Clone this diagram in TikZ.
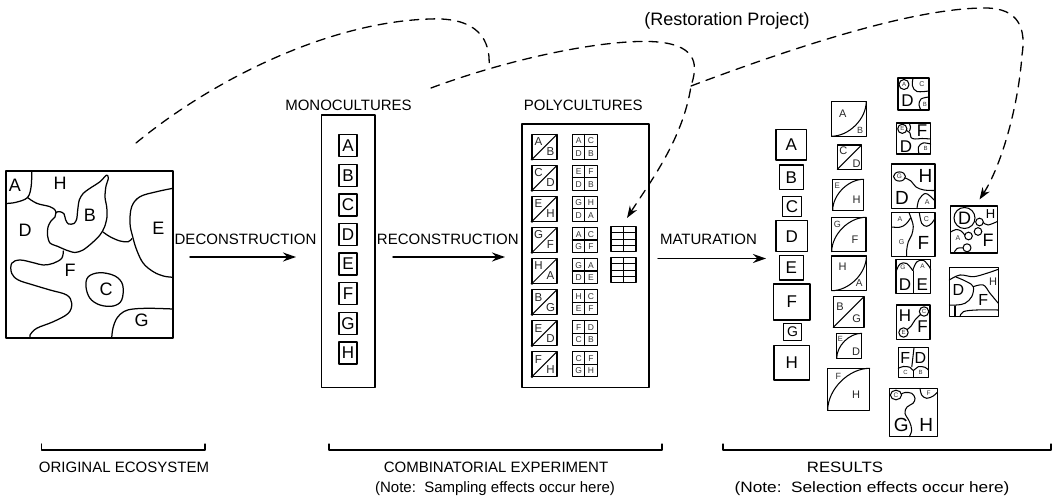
\documentclass[tikz,border=0pt]{standalone}
\usepackage{fontspec}
\setmainfont{Liberation Sans}
\usetikzlibrary{arrows.meta,calc}
\newcommand{\fsz}[1]{\fontsize{#1}{#1}\selectfont}
% box with a straight or curved split, for the pair columns
\newcommand{\splitsq}[5]{% name, x, y, size, split style
  \node[sq,minimum size=#4pt,anchor=north west] (#1) at (#2,#3) {};
  \draw[seg] (#1.south west) to[#5] (#1.north east);
}
\newcommand{\quadsq}[7]{% name, x, y, four letters
  \node[sq,minimum size=25pt,anchor=north west] (#1) at (#2,#3) {};
  \draw[seg] (#1.north) -- (#1.south) (#1.west) -- (#1.east);
  \node[tinyl] (#1-a) at ($(#1.north west)+(6.4,6.6)$) {#4};
  \node[tinyl] (#1-b) at ($(#1.north west)+(18.6,6.6)$) {#5};
  \node[tinyl] (#1-c) at ($(#1.north west)+(6.4,18.8)$) {#6};
  \node[tinyl] (#1-d) at ($(#1.north west)+(18.6,18.8)$) {#7};
}
\newcommand{\diagsq}[5]{% name, x, y, two letters
  \node[sq,minimum size=25pt,anchor=north west] (#1) at (#2,#3) {};
  \draw[seg] (#1.south west) -- (#1.north east);
  \fill (#1.south west) circle (1.4);
  \node[pairl] (#1-a) at ($(#1.north west)+(6.5,7.5)$) {#4};
  \node[pairl] (#1-b) at ($(#1.south east)+(-6.5,-7.5)$) {#5};
}
\begin{document}
\begin{tikzpicture}[x=1pt,y=-1pt,line join=round,line cap=round,
  every node/.style={inner sep=0pt,outer sep=0pt},
  lbl/.style={font=\fsz{15}},
  big/.style={font=\fsz{18}},
  mid/.style={font=\fsz{11},text=black!85},
  small/.style={font=\fsz{7},text=black!80},
  tinyl/.style={font=\fsz{8.5},text=black!80},
  pairl/.style={font=\fsz{11.5},text=black!85},
  frame/.style={draw,line width=1.4pt},
  sq/.style={draw,line width=1.25pt},
  seg/.style={line width=1.05pt},
  map/.style={line width=1.25pt},
  flow/.style={line width=1.4pt,-{Stealth[length=13pt,width=9pt]}},
  restore/.style={line width=1.3pt,dash pattern=on 9pt off 7pt},
  restoretip/.style={restore,-{Stealth[length=12pt,width=8.5pt]}},
  bulgebr/.style={to path={.. controls ($(\tikztostart)!0.5!(\tikztostart -| \tikztotarget)$) and ($(\tikztotarget)!0.5!(\tikztostart -| \tikztotarget)$) .. (\tikztotarget)}},
  bulgetl/.style={to path={.. controls ($(\tikztostart)!0.5!(\tikztostart |- \tikztotarget)$) and ($(\tikztotarget)!0.5!(\tikztostart |- \tikztotarget)$) .. (\tikztotarget)}},
  straight/.style={to path={-- (\tikztotarget)}},
]
\useasboundingbox (0,0) rectangle (1054,502);
\fill[white] (0,0) rectangle (1054,502);

% ---------- original ecosystem ----------
\node[frame,minimum width=167pt,minimum height=167pt,anchor=north west] (eco) at (6,171) {};
\begin{scope}[map]
\draw plot[smooth,tension=0.6] coordinates {(31.7,171) (31.2,186) (27.5,197.5) (16,202.3) (6,203.5)};
\draw plot[smooth,tension=0.6] coordinates {(27.5,197.5) (36.7,203.3) (50,206.7) (55,210) (56,213)};
\draw plot[smooth cycle,tension=0.5] coordinates {(56,212.5) (60,211.7) (64,213.8) (65.7,220) (68.5,224) (74,223.5) (76.7,219) (77.7,210) (79.3,200) (83.3,193.3) (90,188.3) (100,181.7) (106.7,175) (108.3,178.5) (106,186) (105,197) (106.7,207) (107,217) (104.5,227) (100,235) (92,243) (83,250) (75,252.5) (66,250) (58,246.5) (50,243) (47.5,235) (48,227) (51,221) (55,217)};
\draw plot[smooth,tension=0.6] coordinates {(103,232) (110,236.7) (120,241) (128.3,241.7) (132,238.5)};
\draw plot[smooth,tension=0.6] coordinates {(173,188.3) (156.7,191.7) (140,196.7) (131.7,206.7) (130,223.3) (132.7,236.7) (136.7,250) (143.3,263.3) (153.3,271.7) (163.3,276) (173,277.3)};
\draw plot[smooth,tension=0.6] coordinates {(63.3,251) (61.7,258.3) (53.3,263.3) (43.3,265) (33.3,262.7) (20,260) (11.7,263.3) (11.7,273.3) (18.3,280) (33.3,285) (50,290) (66.7,295) (71.7,303.3) (68.3,313.3) (53.3,321.7) (36.7,328.3) (30,335) (30.7,338)};
\draw plot[smooth cycle,tension=0.6] coordinates {(88.3,276.7) (100,272.7) (115,276) (122.7,285) (121.7,300) (113.3,306) (100,305) (90,298.3) (86,286.7)};
\draw plot[smooth,tension=0.6] coordinates {(111.7,338) (113,328) (117,318) (124,311.5) (133.3,309) (150,308.3) (173,309)};
\end{scope}
\node[big] (ecoA) at (15,185) {A};
\node[big] (ecoH) at (60,183.3) {H};
\node[big] (ecoB) at (90,215) {B};
\node[big] (ecoD) at (25,230) {D};
\node[big] (ecoE) at (158.3,228.3) {E};
\node[big] (ecoF) at (70,270) {F};
\node[big] (ecoC) at (106,289.3) {C};
\node[big] (ecoG) at (141.7,320) {G};

% ---------- process arrows ----------
\coordinate (dA) at (190,257); \coordinate (dB) at (296,257);
\draw[flow] (dA) -- (dB);
\node[lbl] (decon) at (245.5,239) {DECONSTRUCTION};
\coordinate (rA) at (393,257); \coordinate (rB) at (505,257);
\draw[flow] (rA) -- (rB);
\node[lbl] (recon) at (447.8,239) {RECONSTRUCTION};
\coordinate (mA) at (658,258.5); \coordinate (mB) at (766,258.5);
\draw[flow] (mA) -- (mB);
\node[lbl] (matur) at (708.5,239) {MATURATION};

% ---------- monocultures ----------
\node[lbl] (monot) at (348.5,105) {MONOCULTURES};
\node[frame,minimum width=53.3pt,minimum height=272.7pt,anchor=north west] (mono) at (321.7,115) {};
\foreach \L [count=\i from 0] in {A,B,C,D,E,F,G,H}
  \node[sq,minimum width=18pt,minimum height=22pt,font=\fsz{17}] (mono\L) at (348,{145.7+29.6*\i}) {\L};

% ---------- polycultures ----------
\node[lbl] (polyt) at (583.3,105) {POLYCULTURES};
\node[frame,minimum width=127pt,minimum height=263.7pt,anchor=north west] (poly) at (522,124) {};
\diagsq{pd1}{532}{134.3}{A}{B}
\diagsq{pd2}{532}{165.4}{C}{D}
\diagsq{pd3}{532}{196.4}{E}{H}
\diagsq{pd4}{532}{227.5}{G}{F}
\diagsq{pd5}{532}{258.5}{H}{A}
\diagsq{pd6}{532}{289.6}{B}{G}
\diagsq{pd7}{532}{320.7}{E}{D}
\diagsq{pd8}{532}{351.7}{F}{H}
\quadsq{pq1}{572.3}{134.3}{A}{C}{D}{B}
\quadsq{pq2}{572.3}{165.4}{E}{F}{D}{B}
\quadsq{pq3}{572.3}{196.4}{G}{H}{D}{A}
\quadsq{pq4}{572.3}{227.5}{A}{C}{G}{F}
\quadsq{pq5}{572.3}{258.5}{G}{A}{D}{E}
\quadsq{pq6}{572.3}{289.6}{H}{C}{E}{F}
\quadsq{pq7}{572.3}{320.7}{F}{D}{C}{B}
\quadsq{pq8}{572.3}{351.7}{C}{F}{G}{H}
\foreach \gy/\gn in {226.7/grid1,257.7/grid2}{
  \node[sq,minimum size=25pt,anchor=north west] (\gn) at (611,\gy) {};
  \draw[seg] (\gn.north) -- (\gn.south);
  \foreach \f in {0.25,0.5,0.75}
    \draw[seg] ($(\gn.north west)!\f!(\gn.south west)$) -- ($(\gn.north east)!\f!(\gn.south east)$);
}

% ---------- results: single species ----------
\node[sq,minimum width=30.7pt,minimum height=30.7pt,font=\fsz{17}] (ra) at (791.3,144.7) {A};
\node[sq,minimum width=24pt,minimum height=24.3pt,font=\fsz{17}] (rb) at (791.3,177.2) {B};
\node[sq,minimum width=19.4pt,minimum height=20pt,font=\fsz{17}] (rc) at (792,206.7) {C};
\node[sq,minimum width=31.3pt,minimum height=31pt,font=\fsz{17}] (rd) at (791.7,236.2) {D};
\node[sq,minimum width=24pt,minimum height=24.3pt,font=\fsz{17}] (re) at (791.3,267.8) {E};
\node[sq,minimum width=36.7pt,minimum height=36pt,font=\fsz{17}] (rf) at (791.7,302) {F};
\node[sq,minimum width=18.4pt,minimum height=17.4pt,font=\fsz{14}] (rg) at (792.5,332) {G};
\node[sq,minimum width=35.3pt,minimum height=34.3pt,font=\fsz{17}] (rh) at (791.7,362.8) {H};

% ---------- results: pairs ----------
\splitsq{rp1}{831.7}{101.7}{34.5}{bulgebr}
\node[mid] (rp1a) at (842.7,113.3) {A}; \node[small,font=\fsz{9}] (rp1b) at (860,130.3) {B};
\splitsq{rp2}{837.3}{145}{24.3}{straight}
\node[mid] (rp2a) at (843.3,151) {C}; \node[mid] (rp2b) at (856.5,163.5) {D};
\splitsq{rp3}{832.7}{179.3}{31}{bulgetl}
\node[small,font=\fsz{8}] (rp3a) at (837.3,186) {E}; \node[mid] (rp3b) at (856.7,200) {H};
\splitsq{rp4}{831.7}{217.3}{34.4}{bulgetl}
\node[small,font=\fsz{9}] (rp4a) at (837.3,224) {G}; \node[mid] (rp4b) at (855,240) {F};
\splitsq{rp5}{831.7}{256}{34.7}{bulgebr}
\node[mid] (rp5a) at (842.7,266.7) {H}; \node[small,font=\fsz{10}] (rp5b) at (859.3,283) {A};
\splitsq{rp6}{833.3}{296.7}{30.7}{straight}
\node[mid] (rp6a) at (840,306.7) {B}; \node[mid] (rp6b) at (856.7,318.3) {G};
\splitsq{rp7}{836.7}{333.3}{25}{bulgetl}
\node[small,font=\fsz{7.5}] (rp7a) at (840.3,338.5) {E}; \node[mid] (rp7b) at (856,352) {D};
\splitsq{rp8}{827.7}{368.3}{42}{bulgetl}
\node[small,font=\fsz{9}] (rp8a) at (838.3,376.7) {F}; \node[mid] (rp8b) at (856,395) {H};

% ---------- results: mixtures ----------
% A C / D B
\node[sq,minimum width=31pt,minimum height=32pt,anchor=north west] (rm1) at (898,78) {};
\draw[seg] (904,84.5) circle (5);
\draw[seg] plot[smooth,tension=0.6] coordinates {(913,78) (912.5,86) (917,91.5) (929,91)};
\draw[seg] plot[smooth,tension=0.6] coordinates {(929,97) (921,99) (919,105) (921,110)};
\node[small,font=\fsz{6}] (rm1a) at (904,84.5) {A};
\node[small] (rm1c) at (922,84.5) {C};
\node[big,font=\fsz{17}] (rm1d) at (907.5,101) {D};
\node[small,font=\fsz{6}] (rm1b) at (924.8,104) {B};
% E F / D B
\node[sq,minimum width=34pt,minimum height=31pt,anchor=north west] (rm2) at (896.7,123) {};
\draw[seg] (902.3,128.8) circle (4.6);
\draw[seg] plot[smooth,tension=0.6] coordinates {(906.5,130.5) (910,133) (911,137.5) (915,139) (922,138.5) (930.7,139)};
\draw[seg] plot[smooth,tension=0.6] coordinates {(909,123) (910.5,127) (909.5,131)};
\draw[seg] plot[smooth,tension=0.6] coordinates {(919,154) (918.5,147) (923,143) (930.7,144)};
\node[small,font=\fsz{6}] (rm2e) at (902.3,128.8) {E};
\node[big,font=\fsz{17}] (rm2f) at (922,131) {F};
\node[big,font=\fsz{17}] (rm2d) at (906,146.5) {D};
\node[small,font=\fsz{6}] (rm2b) at (925.5,148.5) {B};
% G H / D A
\node[sq,minimum width=43.3pt,minimum height=44.3pt,anchor=north west] (rm3) at (891.7,164) {};
\draw[seg] (899.5,176.5) ellipse [x radius=6, y radius=4.6];
\draw[seg] plot[smooth,tension=0.6] coordinates {(905.2,178) (911,181) (916,187) (924,190) (935,190.5)};
\draw[seg] plot[smooth,tension=0.6] coordinates {(917,208.3) (919,199.5) (925,193.5) (930,196) (935,201)};
\node[small,font=\fsz{6.5}] (rm3g) at (899.5,176.5) {G};
\node[big,font=\fsz{19}] (rm3h) at (925.5,175.5) {H};
\node[big,font=\fsz{19}] (rm3d) at (902,198) {D};
\node[small,font=\fsz{7}] (rm3a) at (927.3,202.5) {A};
% A C / G F
\node[sq,minimum width=43.3pt,minimum height=43.5pt,anchor=north west] (rm4) at (891.7,212.7) {};
\draw[seg] plot[smooth,tension=0.6] coordinates {(909,212.7) (911.7,220) (913.3,226.7) (911.7,235) (908.3,241.7) (906.7,250) (906.7,256.2)};
\draw[seg] plot[smooth,tension=0.6] coordinates {(891.7,227) (900,227.2) (906,224) (910.5,218)};
\draw[seg] plot[smooth,tension=0.6] coordinates {(919.3,212.7) (921.7,223.3) (926.7,226.3) (931.7,223.3) (935,218.3)};
\node[small] (rm4a) at (900,219.5) {A};
\node[small] (rm4c) at (926.5,219.5) {C};
\node[small] (rm4g) at (901.7,241.7) {G};
\node[big,font=\fsz{19}] (rm4f) at (923.3,243.3) {F};
% G A / D E
\node[sq,minimum width=34.7pt,minimum height=34pt,anchor=north west] (rm5) at (896,259.3) {};
\draw[seg] plot[smooth,tension=0.6] coordinates {(896,271.7) (900,264) (906.7,263.5) (912.7,270.5)};
\draw[seg] plot[smooth,tension=0.6] coordinates {(912.7,270.5) (916.7,262) (923.3,260.3) (929.3,266.7) (930.7,270)};
\draw[seg] (913.3,271) -- (913.3,293.3);
\node[small,font=\fsz{6.5}] (rm5g) at (903,267.5) {G};
\node[small,font=\fsz{6.5}] (rm5a) at (922.5,266.5) {A};
\node[big,font=\fsz{17}] (rm5d) at (905,284.5) {D};
\node[big,font=\fsz{17}] (rm5e) at (922.3,284.5) {E};
% H C / E F
\node[sq,minimum width=33.3pt,minimum height=34.3pt,anchor=north west] (rm6) at (896.7,305) {};
\draw[seg] (924,311.5) circle (4.7);
\draw[seg] (903.5,332.5) circle (4.7);
\draw[seg] plot[smooth,tension=0.6] coordinates {(920.5,314.5) (915,320) (911.5,325.5) (907.3,329.5)};
\node[small,font=\fsz{6}] (rm6c) at (924,311.5) {C};
\node[small,font=\fsz{6}] (rm6e) at (903.5,332.5) {E};
\node[big,font=\fsz{17}] (rm6h) at (905,316) {H};
\node[big,font=\fsz{17}] (rm6f) at (922.5,327) {F};
% F D / C B
\node[sq,minimum width=30pt,minimum height=30pt,anchor=north west] (rm7) at (898.3,347.7) {};
\draw[seg] (914,347.7) -- (911.8,366.8);
\draw[seg] plot[smooth,tension=0.6] coordinates {(898.3,368.3) (903.3,366.5) (910,367.3) (913.3,370.5) (918.3,366.7) (925,367.3) (928.3,370)};
\draw[seg] (913.3,370.5) -- (913.3,377.7);
\node[big,font=\fsz{16}] (rm7f) at (905.3,357.5) {F};
\node[big,font=\fsz{16}] (rm7d) at (920.5,357.5) {D};
\node[small,font=\fsz{6}] (rm7c) at (905.5,372.5) {C};
\node[small,font=\fsz{6}] (rm7b) at (920.5,372.5) {B};
% C F / G H
\node[sq,minimum width=48pt,minimum height=48.4pt,anchor=north west] (rm8) at (889.3,388.3) {};
\draw[seg] (896,395) ellipse [x radius=5.6, y radius=4.8];
\draw[seg] plot[smooth,tension=0.6] coordinates {(901.5,394) (905,392.5) (911.7,393.3) (915,398.3) (913,403.3) (907,407) (905,413.3) (909.5,421.7) (911.7,430) (909.3,436.7)};
\draw[seg] plot[smooth,tension=0.6] coordinates {(920,388.3) (921.7,395) (926.7,398.3) (933.3,396) (937.3,392.3)};
\node[small,font=\fsz{6.5}] (rm8c) at (896,395) {C};
\node[small,font=\fsz{6.5}] (rm8f) at (928.5,393.5) {F};
\node[big,font=\fsz{19}] (rm8g) at (901.3,425) {G};
\node[big,font=\fsz{19}] (rm8h) at (926.3,425) {H};

% ---------- restored communities ----------
\node[sq,minimum width=46.6pt,minimum height=47pt,anchor=north west] (rr1) at (950.7,206) {};
\draw[seg] (964.5,218) circle (10.5);
\draw[seg] (979.5,222) circle (3.8);
\draw[seg] (978,231.5) circle (3.8);
\draw[seg] (968.5,236) circle (3.8);
\draw[seg] (967,247.8) circle (4);
\draw[seg] plot[smooth,tension=0.6] coordinates {(983.3,222.5) (988,225) (997.3,221.5)};
\draw[seg] plot[smooth,tension=0.6] coordinates {(950.7,232) (956,229.5) (961,231) (964.7,235)};
\draw[seg] plot[smooth,tension=0.6] coordinates {(963,247.8) (957,248.5) (954,253)};
\node[big,font=\fsz{18}] (rr1d) at (964.5,218) {D};
\node[big,font=\fsz{13}] (rr1h) at (990.5,214.5) {H};
\node[small,font=\fsz{7}] (rr1a) at (958,238.5) {A};
\node[big,font=\fsz{18}] (rr1f) at (988,240.5) {F};
\node[sq,minimum width=49pt,minimum height=49.4pt,anchor=north west] (rr2) at (949.3,267.3) {};
\draw[seg] plot[smooth,tension=0.6] coordinates {(949.3,280) (960,275) (973.3,276.7) (986.7,273.3) (998.3,269.3)};
\draw[seg] plot[smooth,tension=0.6] coordinates {(956,277) (966.7,281.7) (973.3,286.7) (971.7,296.7) (965,303.3) (956.7,305) (949.3,305)};
\draw[seg] plot[smooth,tension=0.6] coordinates {(973.3,286.7) (983.3,285) (990,293.3) (998.3,303.3)};
\draw[seg] plot[smooth,tension=0.6] coordinates {(960,316.7) (963.3,311.7) (976.7,310) (998.3,310)};
\draw[seg] (955,306) -- (955,316.7);
\node[big,font=\fsz{16}] (rr2d) at (958.3,290) {D};
\node[big,font=\fsz{16}] (rr2f) at (983.3,300) {F};
\node[mid,font=\fsz{11}] (rr2h) at (993,282) {H};

% ---------- restoration paths ----------
\node[font=\fsz{18}] (restt) at (727,21) {(Restoration Project)};
\coordinate (s1) at (136,143);
\coordinate (j1) at (489,67);
\coordinate (s2) at (431,88);
\coordinate (k2) at (691,86);
\coordinate (t2) at (627,218);
\coordinate (t3) at (979.5,199.5);
\draw[restore] (s1) .. controls (215,78) and (330,22) .. (430,19) .. controls (478,17) and (491,40) .. (j1);
\draw[restoretip] (s2) .. controls (520,55) and (615,38) .. (658,42) .. controls (700,46) and (697,68) .. (k2) .. controls (683,140) and (648,185) .. (t2);
\draw[restoretip] (k2) .. controls (800,45) and (915,8) .. (985,8) .. controls (1020,8) and (1026,30) .. (1022,55) .. controls (1018,110) and (1000,168) .. (t3);

% ---------- bottom brackets and captions ----------
\coordinate (b1l) at (41.7,444); \coordinate (b1r) at (205,444);
\coordinate (b2l) at (329,444); \coordinate (b2r) at (662,444);
\coordinate (b3l) at (723,444); \coordinate (b3r) at (1051,444);
\draw[line width=1.1pt] (b1l) -- ++(0,6) -| (b1r);
\draw[line width=1.1pt] (b2l) -- ++(0,6) -| (b2r);
\draw[line width=1.1pt] (b3l) -- ++(0,6) -| (b3r);
\node[lbl] (cap1) at (124,467) {ORIGINAL ECOSYSTEM};
\node[lbl] (cap2) at (496,467) {COMBINATORIAL EXPERIMENT};
\node[lbl] (note2) at (495,489) {(Note:\ \ Sampling effects occur here)};
\node[lbl] (cap3) at (845,467) {\scalebox{1.12}[1]{RESULTS}};
\node[lbl] (note3) at (872,489) {\scalebox{1.15}[1]{(Note:\ \ Selection effects occur here)}};
\end{tikzpicture}
\end{document}
